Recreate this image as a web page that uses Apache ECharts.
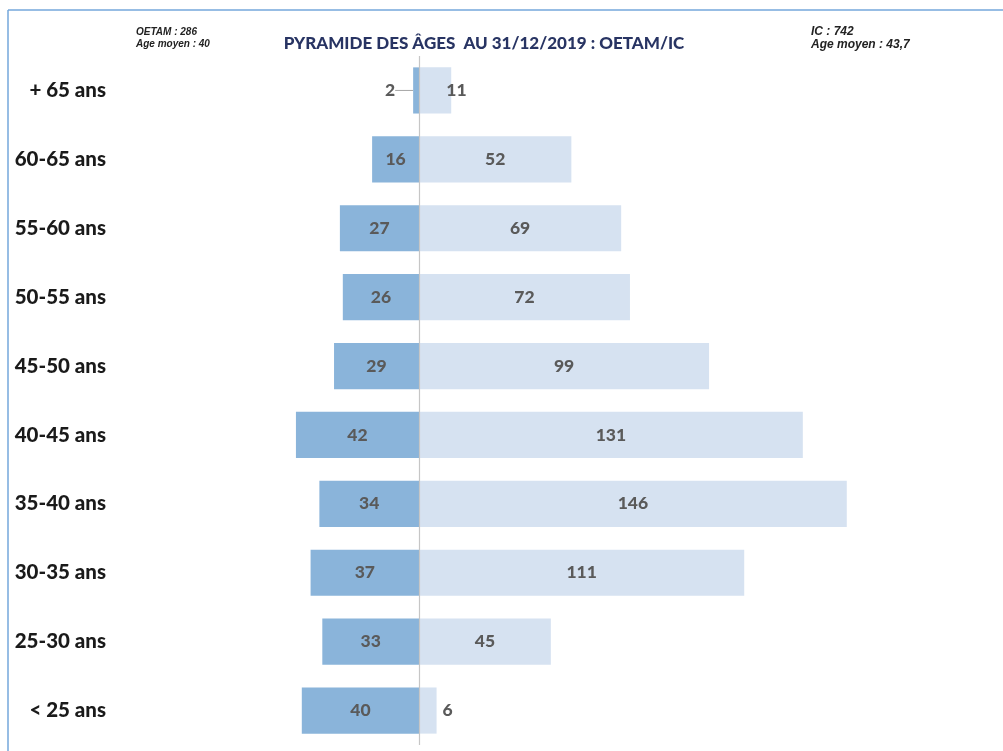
<!DOCTYPE html>
<html>
<head>
<meta charset="utf-8">
<script src="https://cdn.jsdelivr.net/npm/echarts@6/dist/echarts.min.js"></script>
<style>
  html, body { margin: 0; padding: 0; background: #fff; }
  #chart { width: 1003px; height: 751px; }
</style>
</head>
<body>
<div id="chart"></div>
<script>
// Age brackets, top to bottom
const ageGroups = ['+ 65 ans', '60-65 ans', '55-60 ans', '50-55 ans', '45-50 ans',
                   '40-45 ans', '35-40 ans', '30-35 ans', '25-30 ans', '< 25 ans'];
// Head counts per bracket
const oetam = [2, 16, 27, 26, 29, 42, 34, 37, 33, 40];
const ic = [11, 52, 69, 72, 99, 131, 146, 111, 45, 6];
// Header notes
const oetamNote = ['OETAM : 286', 'Age moyen : 40'];
const icNote = ['IC : 742', 'Age moyen : 43,7'];
const titleText = 'PYRAMIDE DES ÂGES  AU 31/12/2019 : OETAM/IC';

const labelStyle = {
  show: true,
  color: '#5a5a5a',
  fontFamily: 'Lato',
  fontWeight: 900,
  fontSize: 17.5
};

// Left side is drawn with negative values
const leftData = oetam.map(function (v) { return { value: -v }; });
// Short right bars carry their label near the bar end
const rightData = ic.map(function (v) {
  const item = { value: v };
  if (v < 15) {
    item.label = { position: 'right', distance: v < 8 ? 6 : -5 };
  }
  return item;
});

const chart = echarts.init(document.getElementById('chart'));
chart.setOption({
  animation: false,
  title: {
    text: titleText,
    left: 479,
    textAlign: 'center',
    top: 30,
    textStyle: { fontFamily: 'Lato', fontWeight: 900, fontSize: 17, color: '#283463' }
  },
  graphic: [
    { type: 'line', shape: { x1: 8, y1: 10, x2: 1003, y2: 10 }, style: { stroke: '#74a7db', lineWidth: 1.5 } },
    { type: 'line', shape: { x1: 8, y1: 10, x2: 8, y2: 751 }, style: { stroke: '#74a7db', lineWidth: 1.5 } },
    { type: 'text', left: 136, top: 26, style: { text: oetamNote.join('\n'), font: 'italic bold 10px "Liberation Sans"', fill: '#222', lineHeight: 12 } },
    { type: 'text', left: 811, top: 25, style: { text: icNote.join('\n'), font: 'italic bold 12px "Liberation Sans"', fill: '#222', lineHeight: 13 } }
  ],
  grid: { left: 126, right: 144.5, top: 56, bottom: 6, containLabel: false },
  xAxis: {
    type: 'value',
    min: -100,
    max: 150,
    show: false
  },
  yAxis: {
    type: 'category',
    data: ageGroups,
    inverse: true,
    axisLine: { show: false, onZero: false },
    axisTick: { show: false },
    axisLabel: {
      margin: 20,
      color: '#1a1a1a',
      fontFamily: 'Lato',
      fontWeight: 900,
      fontSize: 20.5
    }
  },
  series: [
    {
      name: 'OETAM',
      type: 'bar',
      data: leftData,
      barGap: '-100%',
      barCategoryGap: '33%',
      itemStyle: { color: '#8ab4da' },
      label: Object.assign({}, labelStyle, {
        position: 'inside',
        formatter: function (p) { return Math.abs(p.value); }
      }),
      // a very thin bar gets its label pulled out to the left, with a leader line
      labelLayout: function (p) {
        if (Math.abs(oetam[p.dataIndex]) < 5) {
          return { dx: -26, dy: 0 };
        }
        return {};
      },
      labelLine: { show: true, lineStyle: { color: '#a6a6a6', width: 1 } }
    },
    {
      name: 'IC',
      type: 'bar',
      data: rightData,
      barGap: '-100%',
      barCategoryGap: '33%',
      itemStyle: { color: '#d6e2f1' },
      label: Object.assign({}, labelStyle, { position: 'inside' }),
      markLine: {
        silent: true,
        symbol: 'none',
        label: { show: false },
        lineStyle: { color: '#c6c6c6', width: 1.2, type: 'solid' },
        data: [{ xAxis: 0 }]
      }
    }
  ]
});
</script>
</body>
</html>
